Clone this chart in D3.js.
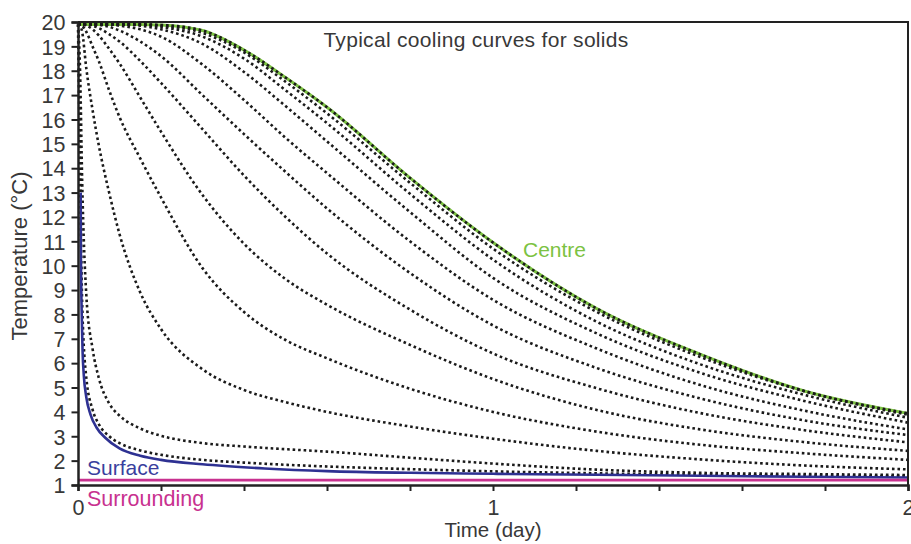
<!DOCTYPE html>
<html>
<head>
<meta charset="utf-8">
<script src="https://cdn.jsdelivr.net/npm/d3@7"></script>
<style>
  html, body { margin: 0; padding: 0; background: #fff; }
  svg { display: block; }
  text { font-family: "Liberation Sans", Arial, Helvetica, sans-serif; fill: #383838; }
</style>
</head>
<body>
<svg id="chart" width="911" height="544"></svg>
<script>
// Time grid (days) shared by the interior temperature curves
const times = [0, 0.005, 0.01, 0.02, 0.035, 0.05, 0.075, 0.1, 0.15, 0.2, 0.3, 0.4, 0.5, 0.6, 0.8, 1.0, 1.25, 1.5, 1.75, 2.0];

// Centre of the solid
const centre  = [19.9, 19.9, 19.9, 19.9, 19.9, 19.9, 19.9, 19.9, 19.9, 19.88, 19.65, 18.85, 17.72, 16.5, 13.6, 10.95, 8.24, 6.36, 4.86, 3.94];

// Interior positions, from next-to-centre out to next-to-surface
const depth10 = [19.9, 19.9, 19.9, 19.9, 19.9, 19.9, 19.9, 19.9, 19.9, 19.85, 19.55, 18.75, 17.55, 16.25, 13.4, 10.7, 8.1, 6.25, 4.85, 3.88];
const depth9  = [19.9, 19.9, 19.9, 19.9, 19.9, 19.9, 19.9, 19.9, 19.9, 19.8, 19.4, 18.5, 17.2, 15.85, 12.95, 10.25, 7.7, 5.95, 4.7, 3.76];
const depth8  = [19.9, 19.9, 19.9, 19.9, 19.9, 19.9, 19.9, 19.9, 19.85, 19.7, 19.1, 17.95, 16.55, 15.1, 12.2, 9.5, 7.22, 5.6, 4.45, 3.56];
const depth7  = [19.9, 19.9, 19.9, 19.9, 19.9, 19.9, 19.9, 19.85, 19.7, 19.4, 18.25, 16.8, 15.25, 13.8, 11.0, 8.6, 6.6, 5.1, 4.05, 3.28];
const depth6  = [19.9, 19.9, 19.9, 19.9, 19.9, 19.88, 19.8, 19.65, 19.2, 18.6, 17.0, 15.4, 13.85, 12.35, 9.7, 7.55, 5.8, 4.55, 3.65, 3.05];
const depth5  = [19.9, 19.9, 19.9, 19.9, 19.85, 19.75, 19.5, 19.2, 18.4, 17.5, 15.6, 13.7, 12.0, 10.5, 8.2, 6.4, 4.97, 3.95, 3.25, 2.75];
const depth4  = [19.9, 19.9, 19.9, 19.85, 19.7, 19.45, 18.9, 18.3, 16.9, 15.5, 12.9, 10.9, 9.45, 8.4, 6.75, 5.35, 4.08, 3.28, 2.76, 2.40];
const depth3  = [19.9, 19.9, 19.85, 19.6, 19.0, 18.4, 17.2, 16.1, 14.4, 12.8, 9.9, 8.1, 6.95, 6.2, 4.95, 4.0, 3.19, 2.65, 2.3, 2.03];
const depth2  = [19.9, 19.85, 19.6, 18.1, 16.4, 14.95, 13.0, 11.3, 8.9, 7.4, 5.75, 4.9, 4.4, 4.0, 3.4, 2.9, 2.4, 2.05, 1.8, 1.64];
const depth1  = [19.9, 18.0, 13.5, 8.8, 6.6, 5.4, 4.35, 3.85, 3.32, 3.02, 2.72, 2.58, 2.47, 2.37, 2.12, 1.88, 1.63, 1.5, 1.45, 1.41];
const depth0  = [19.9, 14.0, 8.5, 5.4, 4.1, 3.5, 3.0, 2.72, 2.42, 2.24, 2.03, 1.92, 1.83, 1.76, 1.65, 1.56, 1.48, 1.42, 1.38, 1.35];

// Surface temperature on its own time grid
const surfaceTimes = [0.0065, 0.007, 0.009, 0.011, 0.014, 0.02, 0.03, 0.045, 0.065, 0.1, 0.15, 0.2, 0.3, 0.45, 0.6, 0.8, 1.0, 1.25, 1.5, 1.75, 2.0];
const surface      = [13, 10.5, 8.0, 6.5, 5.5, 4.6, 3.9, 3.35, 2.95, 2.5, 2.2, 2.03, 1.85, 1.68, 1.57, 1.5, 1.46, 1.42, 1.38, 1.34, 1.31];

// Surrounding air temperature
const surroundTimes = [0, 2];
const surrounding   = [1.2, 1.2];

// Axis ticks
const yTicks = d3.range(1, 21);
const xTicks = [0, 0.2, 0.4, 0.6, 0.8, 1.0, 1.2, 1.4, 1.6, 1.8, 2.0];
const xTickLabels = { 0: "0", 1: "1", 2: "2" };

const svg = d3.select("#chart");
const x = d3.scaleLinear().domain([0, 2]).range([78, 908]);
const y = d3.scaleLinear().domain([1, 20]).range([485, 22]);

const line = d3.line()
  .x(d => x(d[0]))
  .y(d => y(d[1]))
  .curve(d3.curveMonotoneX);

const pair = (ts, vs) => ts.map((t, i) => [t, vs[i]]);

// Green centre line underneath its dotted trace
svg.append("path")
  .attr("d", line(pair(times, centre)))
  .attr("fill", "none")
  .attr("stroke", "#7cc242")
  .attr("stroke-width", 3);

const dotted = [centre, depth10, depth9, depth8, depth7, depth6, depth5, depth4, depth3, depth2, depth1, depth0];
svg.append("g")
  .selectAll("path")
  .data(dotted)
  .join("path")
  .attr("d", vs => line(pair(times, vs)))
  .attr("fill", "none")
  .attr("stroke", "#1a1a1a")
  .attr("stroke-width", 2.6)
  .attr("stroke-dasharray", "2.6 2.9");

// Surface
svg.append("path")
  .attr("d", line(pair(surfaceTimes, surface)))
  .attr("fill", "none")
  .attr("stroke", "#2e3192")
  .attr("stroke-width", 2.6);

// Surrounding
svg.append("path")
  .attr("d", line(pair(surroundTimes, surrounding)))
  .attr("fill", "none")
  .attr("stroke", "#c8318f")
  .attr("stroke-width", 2.6);

// Frame (top and right)
svg.append("path")
  .attr("d", `M${x(0)},${y(20)}H${x(2)}V${y(1)}`)
  .attr("fill", "none")
  .attr("stroke", "#222")
  .attr("stroke-width", 2);

// Axes
const yAxis = svg.append("g")
  .attr("transform", `translate(${x(0)},0)`)
  .call(d3.axisLeft(y).tickValues(yTicks).tickFormat(d3.format("d")).tickSizeOuter(0).tickSize(6.5).tickPadding(6));
const xAxis = svg.append("g")
  .attr("transform", `translate(0,${y(1)})`)
  .call(d3.axisBottom(x).tickValues(xTicks).tickFormat(d => xTickLabels[d] ?? "").tickSizeOuter(0).tickSize(6).tickPadding(9));

[yAxis, xAxis].forEach(g => {
  g.select(".domain").attr("stroke", "#222").attr("stroke-width", 2.5);
  g.selectAll(".tick line").attr("stroke", "#222").attr("stroke-width", 2);
  g.selectAll(".tick text")
    .attr("fill", "#383838")
    .style("font-family", '"Liberation Sans", Arial, sans-serif')
    .style("font-size", "21.5px");
});
yAxis.selectAll(".tick text").attr("dy", "0.36em");

// Titles and labels
svg.append("text")
  .attr("x", 476).attr("y", 47)
  .attr("text-anchor", "middle")
  .style("font-size", "21px")
  .style("letter-spacing", "0.3px")
  .text("Typical cooling curves for solids");

svg.append("text")
  .attr("x", x(1)).attr("y", 537)
  .attr("text-anchor", "middle")
  .style("font-size", "20.5px")
  .text("Time (day)");

svg.append("text")
  .attr("transform", "translate(27,256) rotate(-90)")
  .attr("text-anchor", "middle")
  .style("font-size", "22px")
  .text("Temperature (°C)");

svg.append("text")
  .attr("x", 523).attr("y", 257)
  .style("font-size", "21px")
  .style("fill", "#7cc242")
  .text("Centre");

svg.append("text")
  .attr("x", 87).attr("y", 475)
  .style("font-size", "21px")
  .style("fill", "#3a3f9e")
  .text("Surface");

svg.append("text")
  .attr("x", 87).attr("y", 506)
  .style("font-size", "21.5px")
  .style("fill", "#c8318f")
  .text("Surrounding");
</script>
</body>
</html>
